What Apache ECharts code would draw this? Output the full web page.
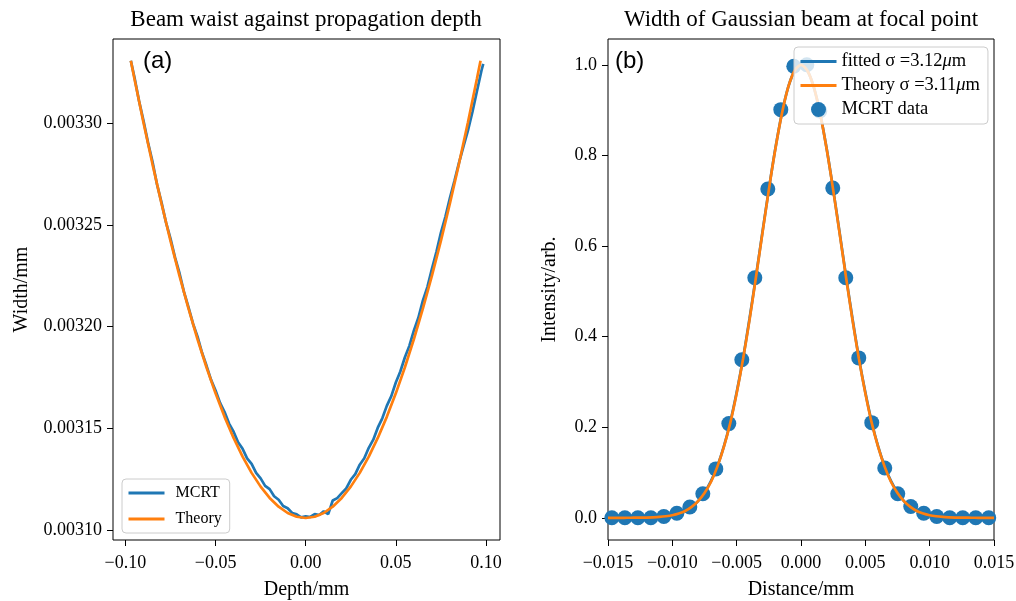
<!DOCTYPE html>
<html><head><meta charset="utf-8">
<script src="https://cdn.jsdelivr.net/npm/echarts@6/dist/echarts.min.js"></script>
<style>html,body{margin:0;padding:0;background:#fff}#c{width:1016px;height:601px}</style>
</head><body><div id="c"></div>
<script>
// ---------- Panel (a): beam waist vs depth ----------
const mcrtDepth = [-0.0970, -0.0950, -0.0925, -0.0900, -0.0875, -0.0850, -0.0825, -0.0800, -0.0775, -0.0750,
  -0.0725, -0.0700, -0.0675, -0.0650, -0.0625, -0.0600, -0.0575, -0.0550, -0.0525, -0.0500,
  -0.0475, -0.0450, -0.0425, -0.0400, -0.0375, -0.0350, -0.0325, -0.0300, -0.0275, -0.0250,
  -0.0225, -0.0200, -0.0175, -0.0150, -0.0125, -0.0100, -0.0075, -0.0050, -0.0025, 0.0000,
  0.0025, 0.0050, 0.0075, 0.0100, 0.0125, 0.0150, 0.0175, 0.0200, 0.0225, 0.0250,
  0.0275, 0.0300, 0.0325, 0.0350, 0.0375, 0.0400, 0.0425, 0.0450, 0.0475, 0.0500,
  0.0525, 0.0550, 0.0575, 0.0600, 0.0625, 0.0650, 0.0675, 0.0700, 0.0725, 0.0750,
  0.0775, 0.0800, 0.0825, 0.0850, 0.0875, 0.0900, 0.0925, 0.0950, 0.0975, 0.0985];
const mcrtWidth = [0.0033306, 0.0033225, 0.0033111, 0.0033012, 0.0032905, 0.0032811, 0.0032699, 0.0032610, 0.0032512, 0.0032432,
  0.0032340, 0.0032262, 0.0032169, 0.0032094, 0.0032014, 0.0031950, 0.0031871, 0.0031807, 0.0031738, 0.0031686,
  0.0031625, 0.0031580, 0.0031523, 0.0031483, 0.0031431, 0.0031399, 0.0031352, 0.0031325, 0.0031281, 0.0031254,
  0.0031217, 0.0031201, 0.0031166, 0.0031149, 0.0031118, 0.0031107, 0.0031084, 0.0031077, 0.0031062, 0.0031067,
  0.0031064, 0.0031078, 0.0031074, 0.0031092, 0.0031078, 0.0031145, 0.0031157, 0.0031181, 0.0031205, 0.0031247,
  0.0031275, 0.0031321, 0.0031353, 0.0031404, 0.0031444, 0.0031503, 0.0031549, 0.0031610, 0.0031658, 0.0031725,
  0.0031779, 0.0031848, 0.0031905, 0.0031980, 0.0032043, 0.0032127, 0.0032194, 0.0032282, 0.0032366, 0.0032460,
  0.0032539, 0.0032631, 0.0032715, 0.0032803, 0.0032884, 0.0032963, 0.0033054, 0.0033156, 0.0033257, 0.0033291];

const theoryDepth = [-0.097, -0.095, -0.090, -0.085, -0.080, -0.075, -0.070, -0.065, -0.060, -0.055,
  -0.050, -0.045, -0.040, -0.035, -0.030, -0.025, -0.020, -0.015, -0.010, -0.005, 0.000,
  0.005, 0.010, 0.015, 0.020, 0.025, 0.030, 0.035, 0.040, 0.045, 0.050,
  0.055, 0.060, 0.065, 0.070, 0.075, 0.080, 0.085, 0.090, 0.095, 0.097];
const theoryWidth = [0.00333063, 0.00332175, 0.00330028, 0.00327983, 0.00326044, 0.00324212, 0.00322489, 0.00320876, 0.00319375, 0.00317988,
  0.00316717, 0.00315562, 0.00314525, 0.00313607, 0.00312809, 0.00312133, 0.00311578, 0.00311146, 0.00310837, 0.00310652, 0.00310590,
  0.00310652, 0.00310837, 0.00311146, 0.00311578, 0.00312133, 0.00312809, 0.00313607, 0.00314525, 0.00315562, 0.00316717,
  0.00317988, 0.00319375, 0.00320876, 0.00322489, 0.00324212, 0.00326044, 0.00327983, 0.00330028, 0.00332175, 0.00333063];

const depthTicks = [-0.10, -0.05, 0.00, 0.05, 0.10];
const widthTicks = [0.00310, 0.00315, 0.00320, 0.00325, 0.00330];

// ---------- Panel (b): Gaussian profile at focus ----------
const profileX = [-0.0150, -0.0145, -0.0140, -0.0135, -0.0130, -0.0125, -0.0120, -0.0115, -0.0110, -0.0105,
  -0.0100, -0.0095, -0.0090, -0.0085, -0.0080, -0.0075, -0.0070, -0.0065, -0.0060, -0.0055,
  -0.0050, -0.0045, -0.0040, -0.0035, -0.0030, -0.0025, -0.0020, -0.0015, -0.0010, -0.0005, 0.0000,
  0.0005, 0.0010, 0.0015, 0.0020, 0.0025, 0.0030, 0.0035, 0.0040, 0.0045, 0.0050,
  0.0055, 0.0060, 0.0065, 0.0070, 0.0075, 0.0080, 0.0085, 0.0090, 0.0095, 0.0100,
  0.0105, 0.0110, 0.0115, 0.0120, 0.0125, 0.0130, 0.0135, 0.0140, 0.0145, 0.0150];
const fittedI = [0, 0, 0, 0.0001, 0.0002, 0.0003, 0.0006, 0.0011, 0.002, 0.0035,
  0.006, 0.010, 0.016, 0.024, 0.037, 0.056, 0.081, 0.114, 0.157, 0.211,
  0.277, 0.353, 0.440, 0.533, 0.630, 0.725, 0.814, 0.891, 0.950, 0.987, 1.000,
  0.987, 0.950, 0.891, 0.814, 0.725, 0.630, 0.533, 0.440, 0.353, 0.277,
  0.211, 0.157, 0.114, 0.081, 0.056, 0.037, 0.024, 0.016, 0.010, 0.006,
  0.0035, 0.002, 0.0011, 0.0006, 0.0003, 0.0002, 0.0001, 0, 0, 0];
const theoryI = [0, 0, 0, 0.0001, 0.0002, 0.0003, 0.0006, 0.0011, 0.0019, 0.0034,
  0.0057, 0.0094, 0.015, 0.024, 0.037, 0.055, 0.079, 0.113, 0.156, 0.209,
  0.275, 0.351, 0.437, 0.531, 0.628, 0.724, 0.813, 0.890, 0.950, 0.987, 1.000,
  0.987, 0.950, 0.890, 0.813, 0.724, 0.628, 0.531, 0.437, 0.351, 0.275,
  0.209, 0.156, 0.113, 0.079, 0.055, 0.037, 0.024, 0.015, 0.0094, 0.0057,
  0.0034, 0.0019, 0.0011, 0.0006, 0.0003, 0.0002, 0.0001, 0, 0, 0];

const dataX = [-0.0147, -0.01369, -0.01268, -0.01167, -0.01066, -0.00965, -0.00864, -0.00763, -0.00662, -0.00561,
  -0.0046, -0.00359, -0.00258, -0.00157, -0.00056, 0.00045, 0.00146, 0.00247, 0.00348, 0.00449,
  0.0055, 0.00651, 0.00752, 0.00853, 0.00954, 0.01055, 0.01156, 0.01257, 0.01358, 0.01459];
const dataI = [0.000, 0.000, 0.000, 0.000, 0.003, 0.010, 0.024, 0.053, 0.108, 0.208,
  0.349, 0.530, 0.726, 0.901, 0.997, 1.000, 0.898, 0.728, 0.530, 0.353,
  0.210, 0.110, 0.053, 0.025, 0.010, 0.003, 0.000, 0.000, 0.000, 0.000];

const distTicks = [-0.015, -0.010, -0.005, 0.000, 0.005, 0.010, 0.015];
const intTicks = [0.0, 0.2, 0.4, 0.6, 0.8, 1.0];

const titles = ['Beam waist against propagation depth', 'Width of Gaussian beam at focal point'];
const legendA = ['MCRT', 'Theory'];
const legendB = ['fitted σ =3.12μm', 'Theory σ =3.11μm', 'MCRT data'];

// ---------- styling ----------
const SERIF = '"Liberation Serif", "Times New Roman", serif';
const SANS = '"Liberation Sans", Arial, sans-serif';
const BLUE = '#1f77b4', ORANGE = '#ff7f0e';
const TICK_FS = 18, NAME_FS = 20, LW = 2.7;
const minus = s => s.replace('-', '\u2212');

function xAxisCfg(grid, min, max, ticks, dec, name) {
  return {
    gridIndex: grid, type: 'value', min: min, max: max,
    axisLine: { show: false, onZero: false },
    axisTick: { show: true, inside: false, length: 6, lineStyle: { color: '#000', width: 1 }, customValues: ticks },
    axisLabel: { customValues: ticks, color: '#000', fontFamily: SERIF, fontSize: TICK_FS, margin: 14,
      formatter: v => minus(v.toFixed(dec)) },
    splitLine: { show: false },
    name: name, nameLocation: 'middle', nameGap: 40,
    nameTextStyle: { color: '#000', fontFamily: SERIF, fontSize: NAME_FS }
  };
}
function yAxisCfg(grid, min, max, ticks, dec, name, gap) {
  return {
    gridIndex: grid, type: 'value', min: min, max: max,
    axisLine: { show: false, onZero: false },
    axisTick: { show: true, inside: false, length: 6, lineStyle: { color: '#000', width: 1 }, customValues: ticks },
    axisLabel: { customValues: ticks, color: '#000', fontFamily: SERIF, fontSize: TICK_FS, margin: 11,
      formatter: v => minus(v.toFixed(dec)) },
    splitLine: { show: false },
    name: name, nameLocation: 'middle', nameGap: gap,
    nameTextStyle: { color: '#000', fontFamily: SERIF, fontSize: NAME_FS }
  };
}
function legendCfg(data, left, top, fs, textPad, gap, padV) {
  return {
    data: data, left: left, top: top, orient: 'vertical',
    itemWidth: 36, itemHeight: 15, itemGap: gap,
    padding: [padV, 8, padV, 5],
    backgroundColor: 'rgba(255,255,255,0.8)', borderColor: '#cccccc', borderWidth: 1, borderRadius: 4,
    selectedMode: false,
    textStyle: { color: '#000', fontFamily: SERIF, fontSize: fs, padding: [0, 0, 0, textPad],
      rich: { i: { fontStyle: 'italic', fontFamily: SERIF, fontSize: fs, color: '#000' } } },
    formatter: n => n.replace('μ', '{i|μ}')
  };
}
const lineItem = n => ({ name: n, itemStyle: { opacity: 0 }, lineStyle: { width: 3 } });
const zip = (a, b) => a.map((v, i) => [v, b[i]]);
const gridCfg = (left, width) => ({ left: left, top: 39, width: width, height: 501, show: true,
  borderColor: '#000', borderWidth: 1, backgroundColor: 'transparent', containLabel: false, outerBoundsMode: 'none' });

const option = {
  animation: false,
  backgroundColor: '#fff',
  grid: [gridCfg(113, 387), gridCfg(608, 386)],
  xAxis: [
    xAxisCfg(0, -0.1069, 0.1078, depthTicks, 2, 'Depth/mm'),
    xAxisCfg(1, -0.015, 0.015, distTicks, 3, 'Distance/mm')
  ],
  yAxis: [
    yAxisCfg(0, 0.0030951, 0.0033413, widthTicks, 5, 'Width/mm', 81),
    yAxisCfg(1, -0.049, 1.057, intTicks, 1, 'Intensity/arb.', 48)
  ],
  legend: [
    legendCfg(legendA.map(lineItem), 122, 479, 16, 6, 10, 6),
    legendCfg([lineItem(legendB[0]), lineItem(legendB[1]), legendB[2]], 794, 47, 18.5, 0, 5, 5)
  ],
  graphic: [
    { type: 'text', x: 306, y: 20, style: { text: titles[0], align: 'center', verticalAlign: 'middle', fontFamily: SERIF, fontSize: 23, fill: '#000' } },
    { type: 'text', x: 801, y: 20, style: { text: titles[1], align: 'center', verticalAlign: 'middle', fontFamily: SERIF, fontSize: 23, fill: '#000' } },
    { type: 'text', x: 143, y: 61, style: { text: '(a)', align: 'left', verticalAlign: 'middle', fontFamily: SANS, fontSize: 24, fill: '#000' } },
    { type: 'text', x: 615, y: 61, style: { text: '(b)', align: 'left', verticalAlign: 'middle', fontFamily: SANS, fontSize: 24, fill: '#000' } }
  ],
  series: [
    { name: legendA[0], type: 'line', xAxisIndex: 0, yAxisIndex: 0, data: zip(mcrtDepth, mcrtWidth),
      symbol: 'none', color: BLUE, lineStyle: { color: BLUE, width: LW }, emphasis: { disabled: true } },
    { name: legendA[1], type: 'line', xAxisIndex: 0, yAxisIndex: 0, data: zip(theoryDepth, theoryWidth),
      symbol: 'none', color: ORANGE, lineStyle: { color: ORANGE, width: LW }, emphasis: { disabled: true } },
    { name: legendB[2], type: 'scatter', xAxisIndex: 1, yAxisIndex: 1, data: zip(dataX, dataI),
      symbol: 'circle', symbolSize: 15, color: BLUE, itemStyle: { color: BLUE, opacity: 1 }, emphasis: { disabled: true } },
    { name: legendB[0], type: 'line', xAxisIndex: 1, yAxisIndex: 1, data: zip(profileX, fittedI), smooth: 0.3,
      symbol: 'none', color: BLUE, lineStyle: { color: BLUE, width: LW }, emphasis: { disabled: true } },
    { name: legendB[1], type: 'line', xAxisIndex: 1, yAxisIndex: 1, data: zip(profileX, theoryI), smooth: 0.3,
      symbol: 'none', color: ORANGE, lineStyle: { color: ORANGE, width: LW }, emphasis: { disabled: true } }
  ]
};
const chart = echarts.init(document.getElementById('c'), null, { renderer: 'canvas' });
chart.setOption(option);
</script></body></html>
